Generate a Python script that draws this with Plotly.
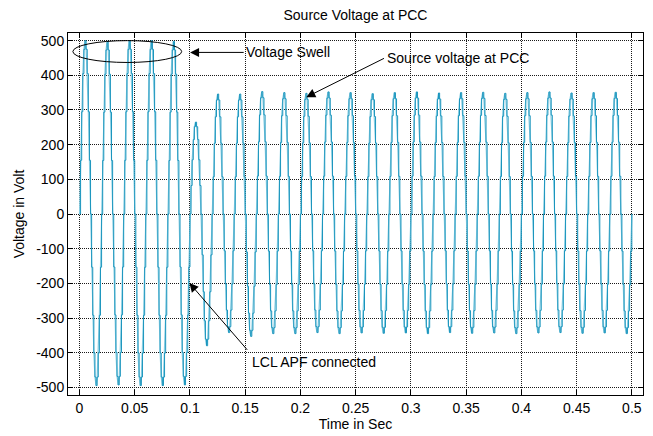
import numpy as np
import plotly.graph_objects as go

# ---- data ----
sample_step = 0.001          # s, staircase sample period
samples_per_cycle = 20       # 50 Hz
# normalised level of each 1 ms sample inside one cycle
cycle_shape = [0.0, 0.31, 0.59, 0.81, 0.95, 1.0, 0.95, 0.81, 0.59, 0.31,
               0.0, -0.31, -0.59, -0.81, -0.95, -1.0, -0.95, -0.81, -0.59, -0.31]
# positive peak of each cycle (V)
pos_peaks = [500, 498, 500, 500, 498,
             265, 346, 346, 353, 350, 348, 352, 350, 347, 350,
             352, 349, 350, 351, 348, 350, 352, 349, 350, 351]
# negative peak of each cycle (V)
neg_peaks = [-495, -493, -495, -495, -493,
             -380, -342, -353, -345, -345, -342, -345, -343, -344, -343,
             -345, -342, -344, -343, -345, -343, -342, -344, -343, -345]
x_ticks = [0, 0.05, 0.1, 0.15, 0.2, 0.25, 0.3, 0.35, 0.4, 0.45, 0.5]
x_tick_labels = ["0", "0.05", "0.1", "0.15", "0.2", "0.25", "0.3", "0.35", "0.4", "0.45", "0.5"]
y_ticks = [-500, -400, -300, -200, -100, 0, 100, 200, 300, 400, 500]
y_tick_labels = [str(v) for v in y_ticks]

n = len(pos_peaks) * samples_per_cycle + 1
t = np.arange(n) * sample_step
v = []
for k in range(n):
    c = min(k // samples_per_cycle, len(pos_peaks) - 1)
    s = cycle_shape[k % samples_per_cycle]
    amp = pos_peaks[c] if s >= 0 else -neg_peaks[c]
    v.append(s * amp)

FONT = "Liberation Sans, Arial, sans-serif"
FS = 14
fig = go.Figure()
fig.add_trace(go.Scatter(x=t, y=v, mode="lines", line=dict(color="#86cde2", width=1.2),
                         line_shape="linear", hoverinfo="skip"))
fig.add_trace(go.Scatter(x=t, y=v, mode="lines", line=dict(color="#1a95bd", width=1),
                         line_shape="hv"))

# ellipse around swell peaks
fig.add_shape(type="circle", xref="x", yref="y", x0=-0.006, x1=0.0925, y0=437, y1=500,
              line=dict(color="black", width=1))

def arrow(xh, yh, xt, yt):
    fig.add_annotation(x=xh, y=yh, ax=xt, ay=yt, xref="x", yref="y", axref="x", ayref="y",
                       text="", showarrow=True, arrowhead=2, arrowsize=1.8, arrowwidth=1,
                       arrowcolor="black", standoff=0)

arrow(0.1001, 466, 0.150, 466)
arrow(0.2053, 337, 0.277, 451)
arrow(0.0995, -199, 0.153, -396)

def label(x, y, txt):
    fig.add_annotation(x=x, y=y, xref="x", yref="y", text=txt, showarrow=False,
                       xanchor="left", yanchor="middle", xshift=-2,
                       font=dict(family=FONT, size=FS, color="black"))

label(0.151, 466, "Voltage Swell")
label(0.278, 449, "Source voltage at PCC")
label(0.156, -426, "LCL APF connected")

axis_common = dict(showline=True, linecolor="black", linewidth=1, mirror="ticks",
                   ticks="inside", ticklen=5, tickcolor="black",
                   showgrid=True, gridcolor="#1a1a1a", griddash="1px,1px", gridwidth=1,
                   zeroline=False, automargin=False,
                   tickfont=dict(family=FONT, size=FS, color="black"))

fig.update_layout(
    width=653, height=436,
    margin=dict(l=68, r=10, t=33, b=41),
    paper_bgcolor="white", plot_bgcolor="white",
    showlegend=False,
    title=dict(text="Source Voltage at PCC", x=355.5 / 653, xanchor="center",
               xref="container", yref="container", y=1 - 15 / 436, yanchor="middle",
               font=dict(family=FONT, size=FS, color="black")),
    xaxis=dict(range=[-0.0104, 0.5101], tickvals=x_ticks, ticktext=x_tick_labels,
               title=dict(text="Time in Sec", font=dict(family=FONT, size=FS, color="black"), standoff=2),
               **axis_common),
    yaxis=dict(range=[-522, 522], tickvals=y_ticks, ticktext=y_tick_labels,
               title=dict(text="Voltage in Volt", font=dict(family=FONT, size=FS, color="black"), standoff=8),
               **axis_common),
)

fig.write_html("out.html", config={"displayModeBar": False},
               post_script="document.body.style.margin='0px';")
